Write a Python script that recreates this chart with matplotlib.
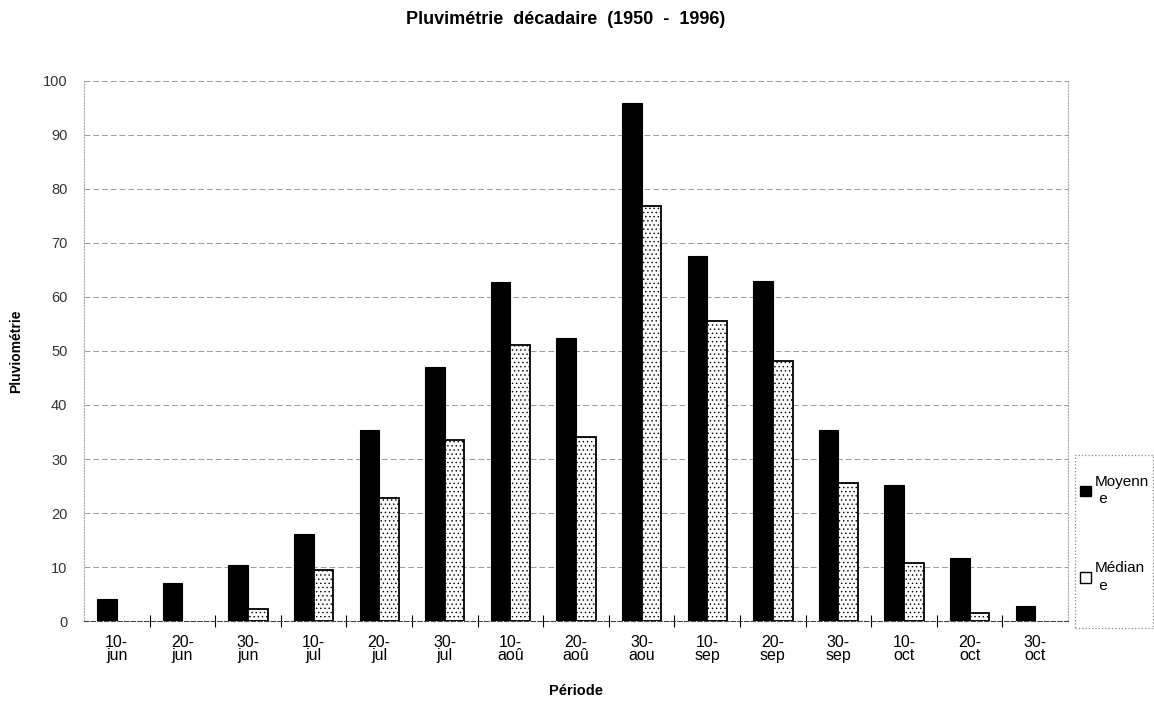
import numpy as np
import matplotlib.pyplot as plt
from matplotlib.patches import Patch, Rectangle

plt.rcParams['font.family'] = ['Liberation Sans', 'DejaVu Sans']
plt.rcParams['hatch.color'] = '#d8d8d8'
plt.rcParams['hatch.linewidth'] = 0.5

# Décades de la saison des pluies
periodes = ['10-\njun', '20-\njun', '30-\njun', '10-\njul', '20-\njul', '30-\njul',
            '10-\naoû', '20-\naoû', '30-\naou', '10-\nsep', '20-\nsep', '30-\nsep',
            '10-\noct', '20-\noct', '30-\noct']
moyenne = [4.0, 7.1, 10.3, 16.2, 35.4, 47.1, 62.8, 52.4, 95.9, 67.5, 63.0, 35.3, 25.2, 11.6, 2.7]
mediane = [0.0, 0.0, 2.2, 9.4, 22.8, 33.5, 51.2, 34.1, 76.8, 55.6, 48.1, 25.5, 10.8, 1.4, 0.0]

fig = plt.figure(figsize=(11.54, 7.01), dpi=100)
ax = fig.add_axes([0.0728, 0.1141, 0.8527, 0.7704])

x = np.arange(len(periodes))
w = 0.3
ax.bar(x - w / 2, moyenne, w, color='black', edgecolor='black', linewidth=0.8, zorder=3)
# pas de contour pour les médianes nulles
lw_med = [1.3 if v > 0 else 0 for v in mediane]
ax.bar(x + w / 2, mediane, w, color='#fcfcfc', edgecolor='black', linewidth=lw_med,
       hatch='....', zorder=3)

ax.set_xlim(-0.5, len(periodes) - 0.5)
ax.set_ylim(0, 100)
ax.set_yticks(np.arange(0, 101, 10))
ax.set_xticks(x)
ax.set_xticklabels(periodes, fontsize=11.5, linespacing=0.85)
ax.set_xticks(np.arange(0.5, len(periodes) - 0.5, 1), minor=True)
ax.tick_params(axis='x', which='major', length=0, pad=10)
ax.tick_params(axis='x', which='minor', length=8, direction='inout', width=0.8)
ax.tick_params(axis='y', length=0, labelsize=10.5, labelcolor='#333333', pad=12)

ax.yaxis.grid(True, color='#999999', linestyle=(0, (6, 3)), linewidth=0.7, zorder=0)
ax.set_axisbelow(True)

ax.spines['top'].set_visible(False)
for side in ['left', 'right']:
    ax.spines[side].set_linestyle(':')
    ax.spines[side].set_color('#aaaaaa')
ax.spines['bottom'].set_linestyle((0, (4, 2)))
ax.spines['bottom'].set_color('#444444')

ax.set_ylabel('Pluviométrie', fontsize=10, fontweight='bold', labelpad=14)
ax.set_xlabel('Période', fontsize=10.5, fontweight='bold', labelpad=15)
fig.text(0.49, 0.972, 'Pluvimétrie  décadaire  (1950  -  1996)', ha='center', va='center',
         fontsize=13, fontweight='bold')

# cadre de la légende
fig.patches.append(Rectangle((1075 / 1154, 73 / 701), 78 / 1154, 173 / 701,
                             transform=fig.transFigure, fill=False,
                             edgecolor='#888888', linestyle=':', linewidth=0.9))
handles = [Patch(facecolor='black', edgecolor='black'),
           Patch(facecolor='white', edgecolor='black')]
leg = fig.legend(handles, ['Moyenn\n e', 'Médian\n e'], loc='upper left',
                 bbox_to_anchor=(1077 / 1154, 1 - 472 / 701), fontsize=11,
                 handlelength=0.7, handleheight=0.7, handletextpad=0.25,
                 labelspacing=3.6, borderpad=0.2, borderaxespad=0, frameon=False)
for t in leg.get_texts():
    t.set_linespacing(1.3)

fig.savefig('out.png', dpi=100)
